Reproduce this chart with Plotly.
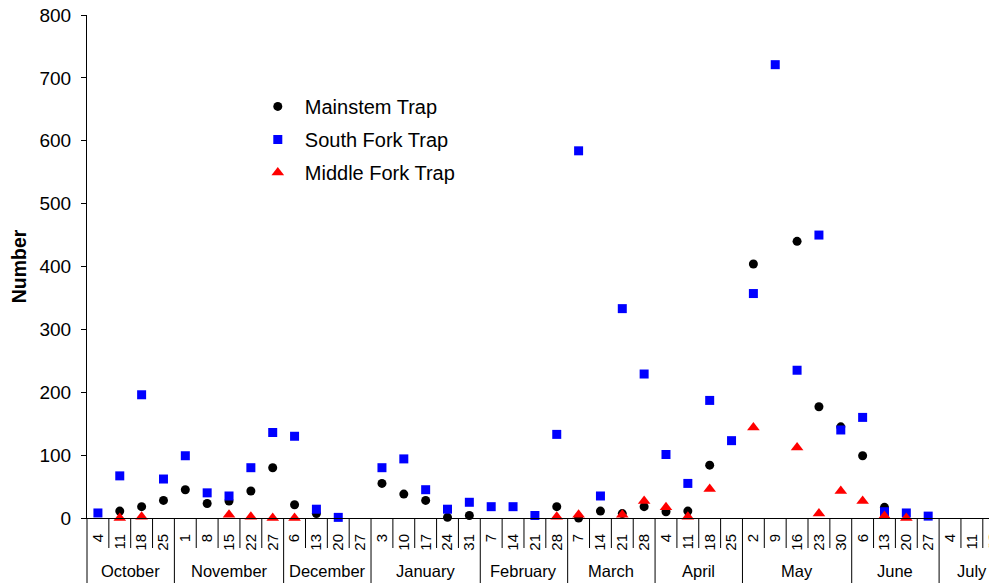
import plotly.graph_objects as go

# ---- data ----
month_names = ["October", "November", "December", "January", "February",
               "March", "April", "May", "June", "July"]
month_of_cat = (["October"] * 4 + ["November"] * 5 + ["December"] * 4 +
                ["January"] * 5 + ["February"] * 4 + ["March"] * 4 +
                ["April"] * 4 + ["May"] * 5 + ["June"] * 4 + ["July"] * 3)
day_labels = ["4", "11", "18", "25",
              "1", "8", "15", "22", "27",
              "6", "13", "20", "27",
              "3", "10", "17", "24", "31",
              "7", "14", "21", "28",
              "7", "14", "21", "28",
              "4", "11", "18", "25",
              "2", "9", "16", "23", "30",
              "6", "13", "20", "27",
              "4", "11", "18"]

mainstem = [None, 11, 18, 28,
            45, 23, 27, 43, 80,
            21, 7, None, None,
            55, 38, 28, 1, 4,
            None, None, None, 18,
            0, 11, 7, 18,
            10, 11, 84, None,
            404, None, 440, 177, 145,
            99, 17, None, None,
            None, None, None]
south_fork = [8, 67, 196, 62,
              99, 40, 35, 80, 136,
              130, 14, 1, None,
              80, 94, 45, 14, 25,
              18, 18, 4, 133,
              584, 35, 333, 229,
              101, 55, 187, 123,
              357, 721, 235, 450, 140,
              160, 10, 8, 3,
              None, None, None]
middle_fork = [None, 0, 2, None,
               None, None, 5, 2, 0,
               0, None, None, None,
               None, None, None, None, None,
               None, None, None, 2,
               5, None, 5, 27,
               17, 2, 46, None,
               144, None, 112, 7, 43,
               27, 3, 0, None,
               None, None, None]

y_ticks = [0, 100, 200, 300, 400, 500, 600, 700, 800]

FONT = "Liberation Sans, Arial"
n = len(day_labels)
xs = list(range(n))
X_MIN, X_MAX = -0.5, 41.15

fig = go.Figure()
fig.add_trace(go.Scatter(x=xs, y=mainstem, mode="markers", name="Mainstem Trap",
                         legendgroup="a", cliponaxis=False,
                         marker=dict(symbol="circle", size=9, color="black")))
fig.add_trace(go.Scatter(x=xs, y=south_fork, mode="markers", name="South Fork Trap",
                         legendgroup="b", cliponaxis=False,
                         marker=dict(symbol="square", size=9, color="#0000FF")))
fig.add_trace(go.Scatter(x=xs, y=middle_fork, mode="markers", name="Middle Fork Trap",
                         legendgroup="c", cliponaxis=False,
                         marker=dict(symbol="triangle-up", size=11, color="#FF0000")))

PLOT_H = 503.0
def py(pix_below_axis):
    return -pix_below_axis / PLOT_H

shapes = []
# left edge line continuing down
shapes.append(dict(type="line", xref="paper", yref="paper", x0=0, x1=0,
                   y0=0, y1=py(66), line=dict(color="black", width=1)))
for k in range(1, n + 1):
    boundary = k - 0.5
    is_month = (k == n) or (month_of_cat[k] != month_of_cat[k - 1])
    shapes.append(dict(type="line", xref="x", yref="paper", x0=boundary, x1=boundary,
                       y0=0, y1=py(66) if is_month else py(30),
                       line=dict(color="black", width=1)))

annotations = []
for m in month_names:
    idx = [i for i, mm in enumerate(month_of_cat) if mm == m]
    c = (idx[0] + idx[-1]) / 2.0
    annotations.append(dict(text=m, x=c, xref="x", y=py(53), yref="paper",
                            showarrow=False, xanchor="center", yanchor="middle",
                            font=dict(family=FONT, size=16.5, color="black")))
# last day label (partly beyond the visible plot edge)
last = n - 1
annotations.append(dict(text=day_labels[last], textangle=-90,
                        x=(last - X_MIN) / (X_MAX - X_MIN), xref="x domain",
                        y=py(13), yref="paper", showarrow=False, xshift=9,
                        xanchor="right", yanchor="top", borderpad=0,
                        font=dict(family=FONT, size=15, color="black")))

fig.update_layout(
    width=989, height=575,
    margin=dict(l=79, r=0, t=7, b=65),
    paper_bgcolor="white", plot_bgcolor="white",
    font=dict(family=FONT, color="black"),
    showlegend=True,
    legend=dict(x=0.180, y=0.857, xanchor="left", yanchor="top",
                bgcolor="rgba(0,0,0,0)", itemwidth=44, tracegroupgap=4,
                font=dict(size=20, family=FONT)),
    xaxis=dict(range=[X_MIN, X_MAX], tickmode="array", tickvals=xs, ticktext=day_labels,
               tickangle=-90, ticks="", showgrid=False, zeroline=False,
               showline=True, linecolor="black", linewidth=1, automargin=False,
               tickfont=dict(size=15, family=FONT), ticklabeloverflow="allow",
               ticklabelstandoff=9),
    yaxis=dict(range=[0, 800], tickmode="array", tickvals=y_ticks,
               ticks="outside", ticklen=5, tickcolor="black", automargin=False,
               showgrid=False, zeroline=False, showline=True, linecolor="black", linewidth=1,
               tickfont=dict(size=19, family=FONT), ticklabeloverflow="allow",
               ticklabelstandoff=6,
               title=dict(text="<b>Number</b>", standoff=10,
                          font=dict(size=19.5, family=FONT))),
    shapes=shapes, annotations=annotations,
)

fig.write_html("out.html", post_script="document.body.style.overflow='hidden';")
